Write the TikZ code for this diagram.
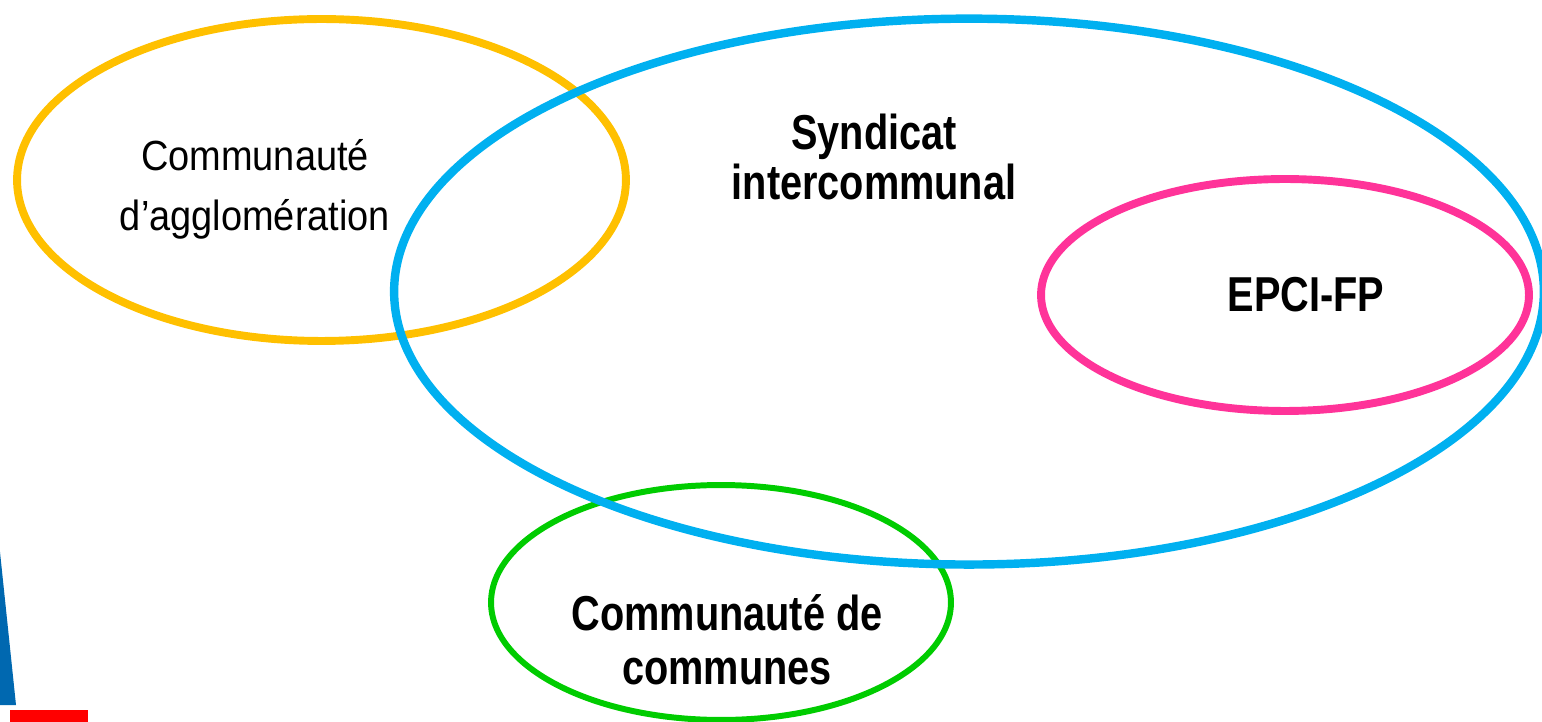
\documentclass[tikz,border=0pt]{standalone}
\usepackage{fontspec}
\newfontfamily\plainsans[FakeStretch=0.9]{Liberation Sans}
\newfontfamily\narrowsans[FakeStretch=0.81]{Liberation Sans}
\usetikzlibrary{positioning}
\definecolor{setorange}{HTML}{FFC000}
\definecolor{setblue}{HTML}{00B0F0}
\definecolor{setpink}{HTML}{FF3399}
\definecolor{setgreen}{HTML}{00CC00}
\definecolor{edgeblue}{HTML}{0068B0}
\tikzset{
    ringo/.style = {draw=setorange, line width=4.5pt},
    ringb/.style = {draw=setblue, line width=4.8pt},
    ringp/.style = {draw=setpink, line width=4.5pt},
    ringg/.style = {draw=setgreen, line width=3.4pt},
    labeln/.style = {inner sep=0pt, align=center, anchor=base,
                     font=\plainsans\fontsize{24}{34.7}\selectfont},
    labelb/.style = {inner sep=0pt, align=center, anchor=base,
                     font=\narrowsans\bfseries\fontsize{27.9}{28.5}\selectfont}
}

\begin{document}
\begin{tikzpicture}[x=0.02cm, y=-0.02cm]
  \useasboundingbox (0,0) rectangle (1542,722);

  % bits of the slide at the left edge
  \fill[edgeblue] (0,552) -- (16,705) -- (0,705) -- cycle;
  \fill[red] (10,710) rectangle (88,722);

  % the sets
  \draw[ringo] (321.5,180) ellipse [x radius=6.09cm, y radius=3.22cm];
  \draw[ringg] (721,602.5) ellipse [x radius=4.6cm, y radius=2.35cm];
  \draw[ringb] (969,291.6) ellipse [x radius=11.5cm, y radius=5.46cm];
  \draw[ringp] (1285,295) ellipse [x radius=4.88cm, y radius=2.32cm];

  % the labels (base = last line)
  \node[labeln] (agglo) at (255,231) {Communaut\'e\\d’agglom\'eration};
  \node[labelb] (syndicat) at (874,200) {Syndicat\\intercommunal};
  \node[labelb] (epci) at (1306,311.7) {EPCI-FP};
  \node[labelb, font=\narrowsans\bfseries\fontsize{27.9}{30.7}\selectfont]
    (cdc) at (727,684) {Communaut\'e de\\communes};
\end{tikzpicture}
\end{document}
